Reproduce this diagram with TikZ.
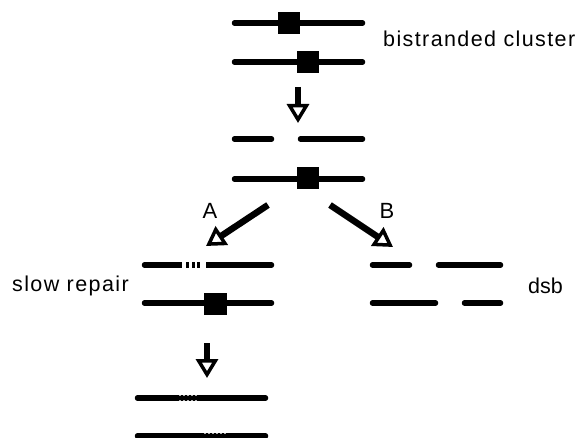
\documentclass[tikz,border=0pt]{standalone}
\usepackage{fontspec}
\setmainfont{Liberation Sans}
\usetikzlibrary{arrows.meta}
\begin{document}
\begin{tikzpicture}[x=1pt,y=-1pt,
  strand/.style={line width=5.5pt,line cap=round},
  lesion/.style={fill=black,draw=none,minimum width=22pt,minimum height=22pt,inner sep=0pt},
  gap/.style={fill=white,draw=none},
  flow/.style={line width=6.5pt,-{Triangle[open,length=19pt,width=22pt,line width=3.5pt]}},
  lbl/.style={inner sep=0pt,font=\fontsize{21.5}{21.5}\selectfont\addfontfeature{LetterSpace=6.5}},
  branch/.style={inner sep=0pt,font=\fontsize{22}{22}\selectfont}]
\useasboundingbox (0,0) rectangle (581,438);

% initial bistranded cluster
\draw[strand] (234.5,23) -- (362.5,23);
\node[lesion] (c1) at (289,23) {};
\draw[strand] (234.5,62) -- (362.5,62);
\node[lesion] (c2) at (308,62) {};
\node[lbl,anchor=base west] (tcluster) at (383,47) {bistranded cluster};

\coordinate (d1s) at (298,87);
\coordinate (d1e) at (298,123);
\draw[flow] (d1s) -- (d1e);

% strand break on one side
\draw[strand] (234.5,139) -- (271.5,139);
\draw[strand] (300.5,139) -- (362.5,139);
\draw[strand] (234.5,179) -- (362.5,179);
\node[lesion] (c3) at (308,178) {};

% two outcomes
\coordinate (as) at (268,205);
\coordinate (ae) at (206,246);
\coordinate (bs) at (330,205);
\coordinate (be) at (393,247);
\draw[flow] (as) -- (ae);
\draw[flow] (bs) -- (be);
\node[branch] (la) at (210,211) {A};
\node[branch] (lb) at (387,211) {B};

% branch A: slow repair
\draw[strand] (144.5,265) -- (271.5,265);
\fill[gap] (182,262) rectangle (186,268);
\fill[gap] (189,262) rectangle (192,268);
\fill[gap] (195,262) rectangle (197,268);
\fill[gap] (200,262) rectangle (206,268);
\draw[strand] (144.5,303) -- (271.5,303);
\node[lesion,minimum width=23pt] (c4) at (215,304) {};
\node[lbl,anchor=base west] (tslow) at (12,292) {slow repair};

\coordinate (d2s) at (207,343);
\coordinate (d2e) at (207,378);
\draw[flow] (d2s) -- (d2e);

% repaired strands
\draw[strand] (137.5,398) -- (265.5,398);
\foreach \x in {179,183,187,191,195}{
  \fill[white!70!black] (\x,395.4) rectangle +(1.6,1);
  \fill[white!70!black] (\x,399.6) rectangle +(1.6,1);
}
\draw[strand] (137.5,436) -- (265.5,436);
\foreach \x in {204,208,212,216,220,224}{
  \fill[white!70!black] (\x,433.4) rectangle +(1.6,1);
}

% branch B: double strand break
\draw[strand] (372.5,265) -- (409.5,265);
\draw[strand] (438.5,265) -- (500.5,265);
\draw[strand] (372.5,303) -- (435.5,303);
\draw[strand] (464.5,303) -- (500.5,303);
\node[inner sep=0pt,font=\fontsize{21.5}{21.5}\selectfont,anchor=base west] (tdsb) at (528,294) {dsb};
\end{tikzpicture}
\end{document}
